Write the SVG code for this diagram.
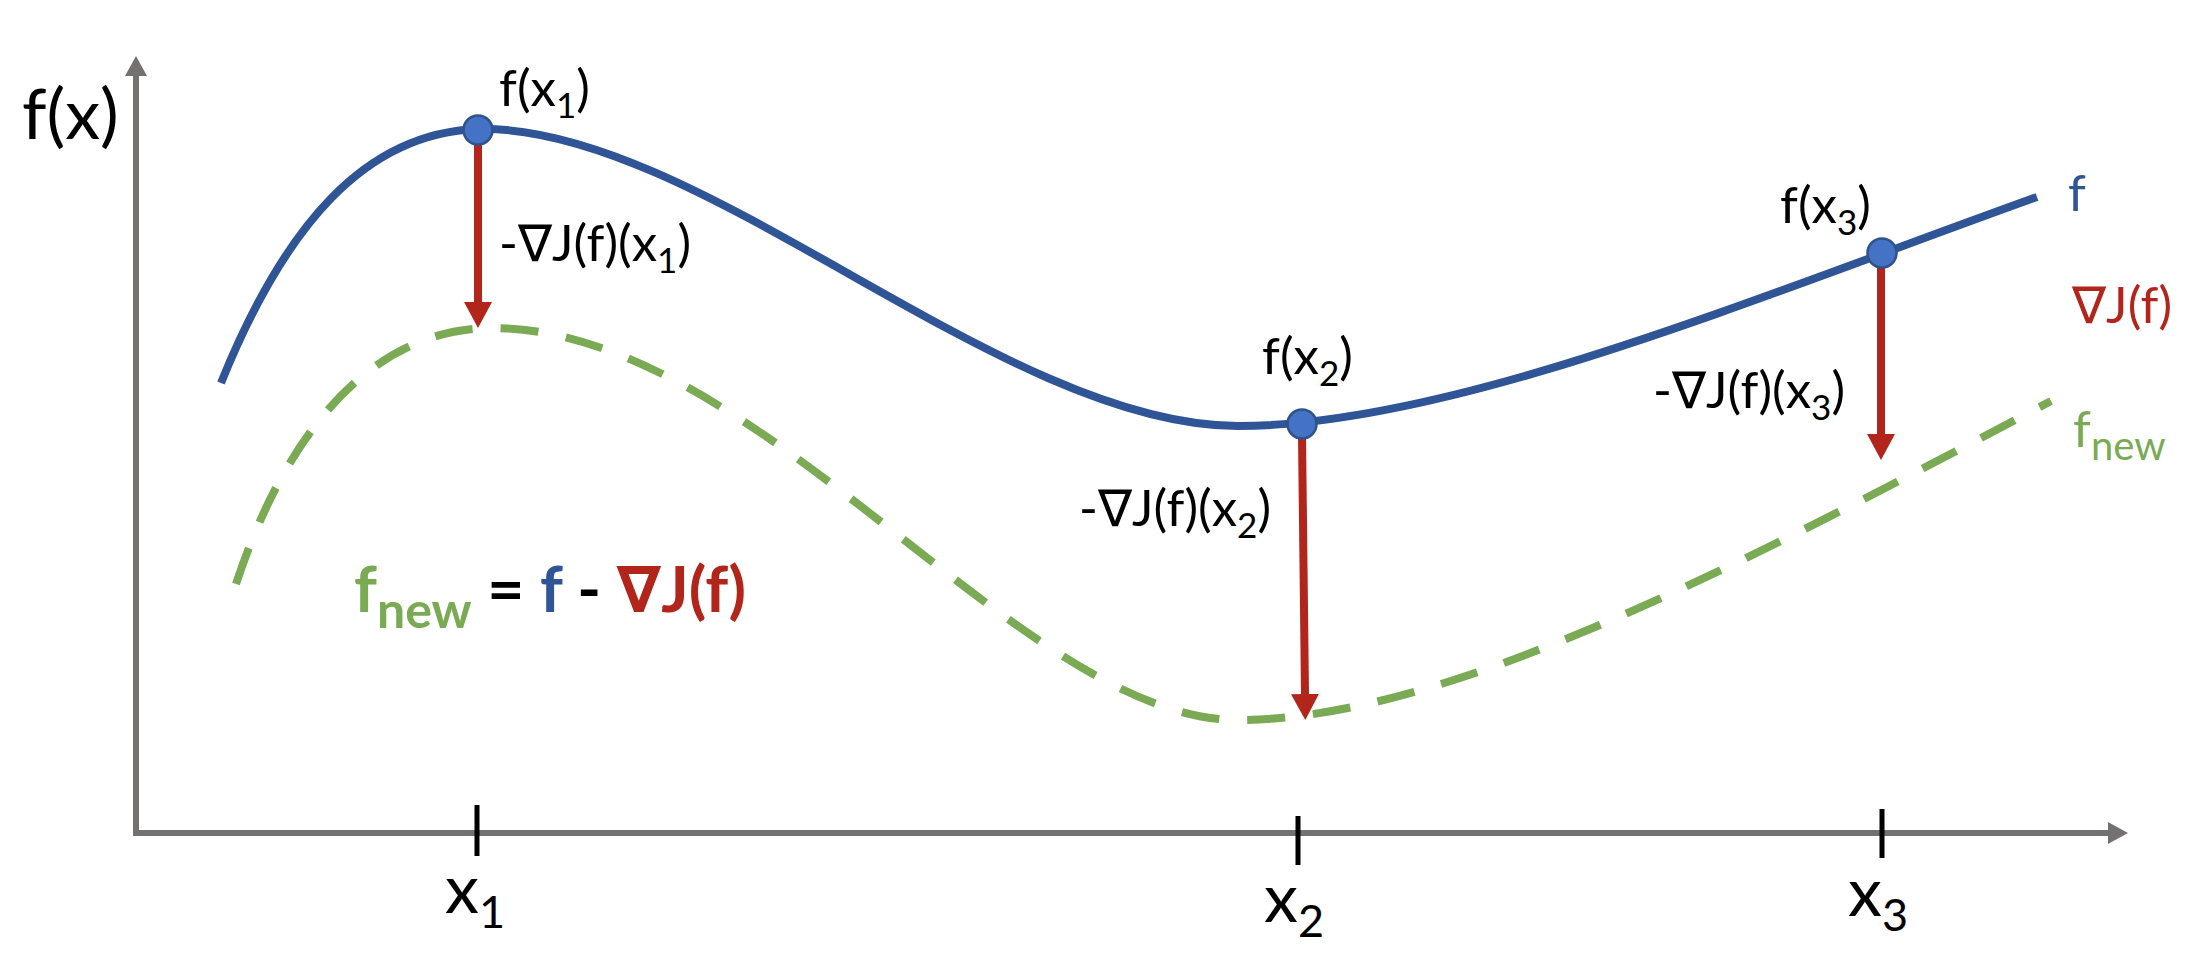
<svg xmlns="http://www.w3.org/2000/svg" width="2206" height="972" viewBox="0 0 2206 972">
<style>
.lbl{font-family:Lato,"DejaVu Sans",sans-serif;font-size:51px;fill:#000}
.tick{font-family:Lato,"DejaVu Sans",sans-serif;font-size:68px;fill:#000}
.axis{stroke:#767171;stroke-width:6;fill:none}
.tk{stroke:#000;stroke-width:5}
.grad{stroke:#B2251B;stroke-width:8;fill:none;marker-end:url(#rh)}
.dot{fill:#4472C4;stroke:#2F528F;stroke-width:2.5}
.eq{font-family:Lato,"DejaVu Sans",sans-serif;font-size:64px;font-weight:bold}
</style>
<defs>
<marker id="rh" markerUnits="userSpaceOnUse" markerWidth="30" markerHeight="30" refX="0" refY="14" orient="auto" viewBox="0 0 30 28">
<path d="M0,0 L26,14 L0,28 z" fill="#B2251B"/>
</marker>
<marker id="ah" markerUnits="userSpaceOnUse" markerWidth="22" markerHeight="22" refX="0" refY="11" orient="auto" viewBox="0 0 22 22">
<path d="M0,0 L20,11 L0,22 z" fill="#767171"/>
</marker>
</defs>
<rect width="2206" height="972" fill="#fff"/>
<g id="axes">
<line class="axis" x1="136" y1="836" x2="136" y2="76" marker-end="url(#ah)"/>
<line class="axis" x1="133" y1="833" x2="2108" y2="833" marker-end="url(#ah)"/>
<text class="tick" x="22" y="139" style="font-size:70px">f(x)</text>
</g>
<g id="ticks">
<line class="tk" x1="477" y1="805" x2="477" y2="856"/>
<line class="tk" x1="1298" y1="816" x2="1298" y2="865"/>
<line class="tk" x1="1882" y1="809" x2="1882" y2="858"/>
<text class="tick" x="445" y="913">x<tspan dy="15" style="font-size:45px">1</tspan></text>
<text class="tick" x="1264" y="922">x<tspan dy="15" style="font-size:45px">2</tspan></text>
<text class="tick" x="1848" y="916">x<tspan dy="15" style="font-size:45px">3</tspan></text>
</g>
<g id="curve-fnew">
<path d="M236,584 C290,420 380,328 492,328 C760,328 1020,720 1238,720 C1450,720 1750,560 2051,401" fill="none" stroke="#7AAB54" stroke-width="8" stroke-dasharray="38 28"/>
</g>
<g id="curve-f">
<path d="M221,383 C285,225 365,133 478,129 C700,124 1000,426 1238,426 C1450,426 1750,300 2037,197" fill="none" stroke="#2F5597" stroke-width="8"/>
</g>
<g id="connectors">
<line class="grad" x1="478" y1="140" x2="478" y2="302"/>
<line class="grad" x1="1302" y1="436" x2="1305" y2="694"/>
<line class="grad" x1="1881" y1="265" x2="1881" y2="434"/>
</g>
<g id="point-x1">
<circle class="dot" cx="478" cy="130" r="14.5"/>
<text class="lbl" x="499" y="106">f(x<tspan dy="12" style="font-size:35px">1</tspan><tspan dy="-12">)</tspan></text>
<text class="lbl" x="499" y="261">-∇J(f)(x<tspan dy="12" style="font-size:35px">1</tspan><tspan dy="-12">)</tspan></text>
</g>
<g id="point-x2">
<circle class="dot" cx="1302" cy="424" r="14.5"/>
<text class="lbl" x="1262" y="374">f(x<tspan dy="12" style="font-size:35px">2</tspan><tspan dy="-12">)</tspan></text>
<text class="lbl" x="1079" y="526">-∇J(f)(x<tspan dy="12" style="font-size:35px">2</tspan><tspan dy="-12">)</tspan></text>
</g>
<g id="point-x3">
<circle class="dot" cx="1882" cy="253" r="14.5"/>
<text class="lbl" x="1780" y="223">f(x<tspan dy="12" style="font-size:35px">3</tspan><tspan dy="-12">)</tspan></text>
<text class="lbl" x="1653" y="408">-∇J(f)(x<tspan dy="12" style="font-size:35px">3</tspan><tspan dy="-12">)</tspan></text>
</g>
<g id="legend">
<text class="lbl" x="2068" y="211" style="fill:#2F5597">f</text>
<text class="lbl" x="2072" y="323" style="fill:#B2251B">∇J(f)</text>
<text class="lbl" x="2073" y="447" style="fill:#7AAB54">f<tspan dy="13" style="font-size:40px">new</tspan></text>
</g>
<g id="equation">
<text class="eq" x="354" y="612"><tspan style="fill:#7AAB54">f</tspan><tspan dy="16" style="fill:#7AAB54;font-size:50px">new</tspan><tspan dy="-16" style="fill:#000"> = </tspan><tspan style="fill:#2F5597">f</tspan><tspan style="fill:#000"> - </tspan><tspan style="fill:#B2251B">∇J(f)</tspan></text>
</g>
</svg>
